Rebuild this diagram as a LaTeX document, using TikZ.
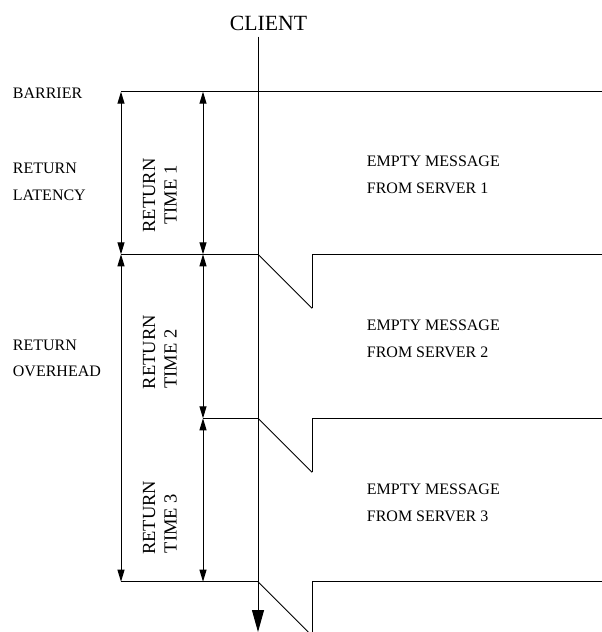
\documentclass[tikz,border=0pt]{standalone}
\usepackage{fontspec}
\setmainfont{Liberation Serif}
\usetikzlibrary{arrows.meta}
\tikzset{
  wire/.style={line width=1pt},
  slope/.style={line width=0.8pt},
  dimarrow/.style={line width=1pt, {Triangle[length=12pt,width=7pt]}-{Triangle[length=12pt,width=7pt]}},
  timeline/.style={line width=1pt, -{Triangle[length=22pt,width=12pt]}},
  lbl/.style={inner sep=0pt, anchor=base west, font=\fontsize{16}{19}\selectfont},
  vlbl/.style={inner sep=0pt, anchor=base west, rotate=90, font=\fontsize{18.5}{22}\selectfont},
  title/.style={inner sep=0pt, anchor=base, font=\fontsize{21.7}{26}\selectfont}
}
\begin{document}
\begin{tikzpicture}[x=1pt,y=-1pt]
\useasboundingbox (0,0) rectangle (602,632);

% key points of the client time line
\coordinate (clientTop) at (258,36.7);
\coordinate (clientEnd) at (258,632);

% barrier level
\coordinate (b0L) at (121,91.7);
\coordinate (b0R) at (602,91.7);

% first reply
\coordinate (s1L) at (121,254.3);
\coordinate (s1C) at (258,254.3);
\coordinate (s1D) at (312,308.3);
\coordinate (s1U) at (312,254.3);
\coordinate (s1R) at (602,254.3);

% second reply
\coordinate (s2L) at (203,418.3);
\coordinate (s2C) at (258,418.3);
\coordinate (s2D) at (312,472.3);
\coordinate (s2U) at (312,418.3);
\coordinate (s2R) at (602,418.3);

% third reply
\coordinate (s3L) at (121,581.7);
\coordinate (s3C) at (258,581.7);
\coordinate (s3D) at (308.3,632);
\coordinate (s3B) at (312,632);
\coordinate (s3U) at (312,581.7);
\coordinate (s3R) at (602,581.7);

% dimension arrow end points
\coordinate (outerA) at (121,91.7);
\coordinate (outerB) at (121,254.3);
\coordinate (outerC) at (121,581.7);
\coordinate (innerA) at (203,91.7);
\coordinate (innerB) at (203,254.3);
\coordinate (innerC) at (203,418.3);
\coordinate (innerD) at (203,581.7);

% horizontal levels and message notches
\draw[wire] (b0L) -- (b0R);
\draw[wire] (s1L) -- (s1C);
\draw[slope] (s1C) -- (s1D);
\draw[wire] (s1D) -- (s1U) -- (s1R);
\draw[wire] (s2L) -- (s2C);
\draw[slope] (s2C) -- (s2D);
\draw[wire] (s2D) -- (s2U) -- (s2R);
\draw[wire] (s3L) -- (s3C);
\draw[slope] (s3C) -- (s3D);
\draw[wire] (s3B) -- (s3U) -- (s3R);

% client time line
\draw[timeline] (clientTop) -- (clientEnd);

% dimension arrows
\draw[dimarrow] (outerA) -- (outerB);
\draw[dimarrow] (outerB) -- (outerC);
\draw[dimarrow] (innerA) -- (innerB);
\draw[dimarrow] (innerB) -- (innerC);
\draw[dimarrow] (innerC) -- (innerD);

% labels
\node[title] (client) at (268.5,30.7) {CLIENT};
\node[lbl] (barrier) at (12.7,98.3) {BARRIER};
\node[lbl] (lat1) at (12.7,173.3) {RETURN};
\node[lbl] (lat2) at (12.7,200) {LATENCY};
\node[lbl] (ovh1) at (12.7,350) {RETURN};
\node[lbl] (ovh2) at (12.7,376.7) {OVERHEAD};

\node[vlbl] (rt1a) at (155,232.7) {RETURN};
\node[vlbl] (rt1b) at (176.7,225) {TIME 1};
\node[vlbl] (rt2a) at (155,389.3) {RETURN};
\node[vlbl] (rt2b) at (176.7,389) {TIME 2};
\node[vlbl] (rt3a) at (155,555) {RETURN};
\node[vlbl] (rt3b) at (176.7,553.3) {TIME 3};

\node[lbl] (msg1a) at (366.7,166.7) {EMPTY MESSAGE};
\node[lbl] (msg1b) at (366.7,193.3) {FROM SERVER 1};
\node[lbl] (msg2a) at (366.7,330) {EMPTY MESSAGE};
\node[lbl] (msg2b) at (366.7,357.3) {FROM SERVER 2};
\node[lbl] (msg3a) at (366.7,494.3) {EMPTY MESSAGE};
\node[lbl] (msg3b) at (366.7,521.7) {FROM SERVER 3};
\end{tikzpicture}
\end{document}
